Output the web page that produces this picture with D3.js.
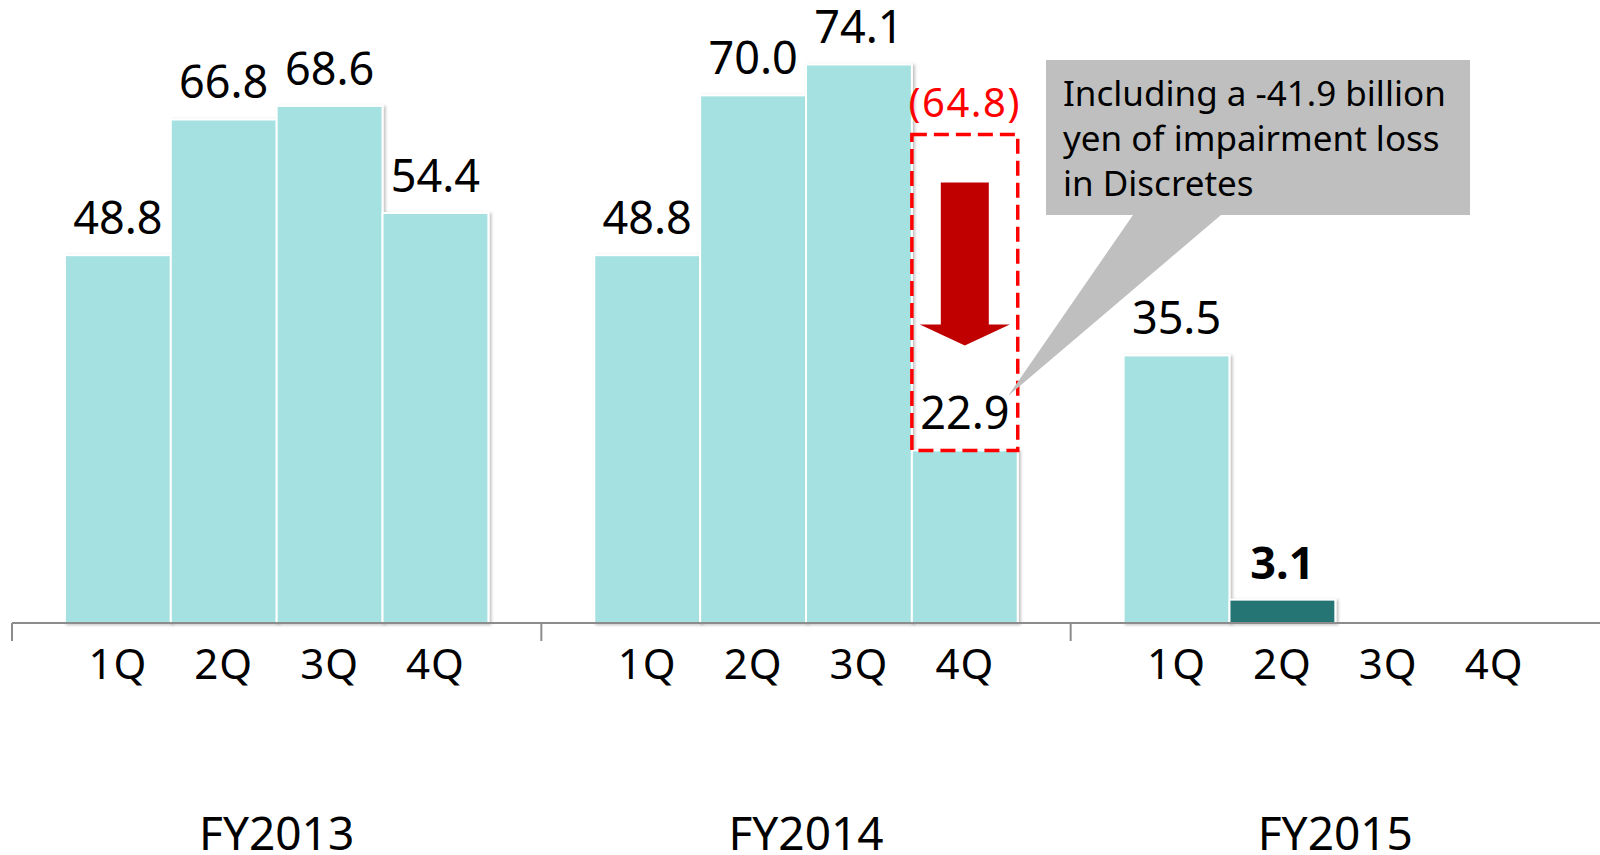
<!DOCTYPE html>
<html><head><meta charset="utf-8">
<script src="https://cdn.jsdelivr.net/npm/d3@7"></script>
<style>html,body{margin:0;padding:0;background:#fff;overflow:hidden}</style>
</head><body>
<svg id="c" width="1600" height="855"></svg>
<script>
const years = ["FY2013", "FY2014", "FY2015"];
const quarters = ["1Q", "2Q", "3Q", "4Q"];
const fy2013 = [48.8, 66.8, 68.6, 54.4];
const fy2014 = [48.8, 70.0, 74.1, 22.9];
const fy2015 = [35.5, 3.1, null, null];
const highlight = {year: "FY2015", quarter: "2Q"};
const before = {year: "FY2014", quarter: "4Q", value: 64.8};
const noteLines = ["Including a -41.9 billion", "yen of impairment loss", "in Discretes"];

const series = {FY2013: fy2013, FY2014: fy2014, FY2015: fy2015};
const data = [];
years.forEach(yr => quarters.forEach((q, i) => {
  const v = series[yr][i];
  if (v !== null) data.push({year: yr, quarter: q, value: v});
}));

const FONT = "'Noto Sans', sans-serif";
const svg = d3.select("#c");
const defs = svg.append("defs");
const f = defs.append("filter").attr("id", "sh").attr("x", "-10%").attr("y", "-10%").attr("width", "130%").attr("height", "130%");
f.append("feDropShadow").attr("dx", 2).attr("dy", 1).attr("stdDeviation", 1.5).attr("flood-color", "#000").attr("flood-opacity", 0.25);

const x0 = d3.scaleBand().domain(years).range([12, 1600]).padding(0);
const x1 = d3.scaleBand().domain(quarters).range([0, x0.bandwidth()]).paddingInner(0).paddingOuter(0.5);
const y = d3.scaleLinear().domain([0, 80]).range([623, 20]);

// bars
svg.append("g").selectAll("rect").data(data).join("rect")
  .attr("x", d => x0(d.year) + x1(d.quarter))
  .attr("y", d => y(d.value))
  .attr("width", x1.bandwidth())
  .attr("height", d => y(0) - y(d.value))
  .attr("fill", d => (d.year === highlight.year && d.quarter === highlight.quarter) ? "#267474" : "#A5E1E1")
  .attr("stroke", "#fff").attr("stroke-width", 2)
  .attr("filter", "url(#sh)");

// value labels
svg.append("g").selectAll("text").data(data).join("text")
  .attr("x", d => x0(d.year) + x1(d.quarter) + x1.bandwidth() / 2)
  .attr("y", d => y(d.value) - 21)
  .attr("text-anchor", "middle")
  .attr("font-family", FONT).attr("font-size", 45)
  .attr("font-weight", d => (d.year === highlight.year && d.quarter === highlight.quarter) ? "bold" : "normal")
  .attr("fill", "#000")
  .text(d => d.value.toFixed(1));

// axis line and group ticks
const ax = svg.append("g");
ax.append("line").attr("x1", x0.range()[0]).attr("x2", x0.range()[1]).attr("y1", y(0)).attr("y2", y(0))
  .attr("stroke", "#8c8c8c").attr("stroke-width", 2);
ax.selectAll("line.t").data(years).join("line").attr("class", "t")
  .attr("x1", d => x0(d)).attr("x2", d => x0(d)).attr("y1", y(0)).attr("y2", y(0) + 18)
  .attr("stroke", "#8c8c8c").attr("stroke-width", 2);

// quarter labels
const ql = [];
years.forEach(yr => quarters.forEach(q => ql.push({year: yr, quarter: q})));
ax.selectAll("text.q").data(ql).join("text").attr("class", "q")
  .attr("x", d => x0(d.year) + x1(d.quarter) + x1.bandwidth() / 2)
  .attr("y", 679)
  .attr("text-anchor", "middle")
  .attr("font-family", FONT).attr("font-size", 42).attr("letter-spacing", 1).attr("fill", "#000")
  .text(d => d.quarter);

// year labels
ax.selectAll("text.y").data(years).join("text").attr("class", "y")
  .attr("x", d => x0(d) + x0.bandwidth() / 2)
  .attr("y", 850)
  .attr("text-anchor", "middle")
  .attr("font-family", FONT).attr("font-size", 46).attr("fill", "#000")
  .text(d => d);

// dashed "before" box
const bx = x0(before.year) + x1(before.quarter);
const bw = x1.bandwidth();
const cur = series[before.year][quarters.indexOf(before.quarter)];
svg.append("rect")
  .attr("x", bx).attr("y", y(before.value))
  .attr("width", bw).attr("height", y(cur) - y(before.value))
  .attr("fill", "none").attr("stroke", "#FF0000").attr("stroke-width", 3.5)
  .attr("stroke-dasharray", "15,7");
svg.append("text")
  .attr("x", bx + bw / 2).attr("y", y(before.value) - 18)
  .attr("text-anchor", "middle")
  .attr("font-family", FONT).attr("font-size", 40).attr("letter-spacing", 1.5).attr("fill", "#FF0000")
  .text("(" + before.value.toFixed(1) + ")");

// down arrow
const cx = bx + bw / 2;
const aTop = y(before.value) + 48, aNeck = y(before.value) + 190, aTip = y(before.value) + 211;
svg.append("path")
  .attr("d", `M${cx - 24},${aTop} L${cx + 24},${aTop} L${cx + 24},${aNeck} L${cx + 45},${aNeck} L${cx},${aTip} L${cx - 45},${aNeck} L${cx - 24},${aNeck} Z`)
  .attr("fill", "#C00000");

// callout
const call = svg.append("g");
call.append("path")
  .attr("d", `M1046,60 L1470,60 L1470,215 L1221,215 L1008,396 L1133,215 L1046,215 Z`)
  .attr("fill", "#BFBFBF");
call.selectAll("text").data(noteLines).join("text")
  .attr("x", 1063).attr("y", (d, i) => 106 + i * 45)
  .attr("font-family", FONT).attr("font-size", 35).attr("fill", "#000")
  .text(d => d);
</script>
</body></html>
